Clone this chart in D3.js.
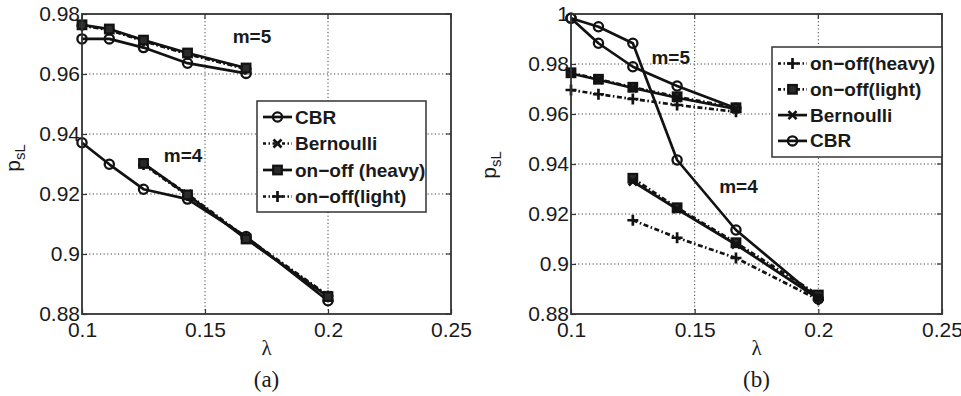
<!DOCTYPE html>
<html>
<head>
<meta charset="utf-8">
<script src="https://cdn.jsdelivr.net/npm/d3@7"></script>
<style>
  html, body { margin: 0; padding: 0; background: #fff; }
  svg { display: block; }
  text { font-family: "Liberation Sans", Arial, Helvetica, sans-serif; fill: #1a1a1a; }
</style>
</head>
<body>
<svg id="chart" width="961" height="396"></svg>
<script>
// Arrival rates (λ = 1/10 ... 1/5)
const lambda5 = [0.1, 0.1111, 0.125, 0.1429, 0.1667];
const lambda6 = [0.1, 0.1111, 0.125, 0.1429, 0.1667, 0.2];
const lambda4 = [0.125, 0.1429, 0.1667, 0.2];

const xTicks = [0.1, 0.15, 0.2, 0.25];
const yTicksA = [0.88, 0.9, 0.92, 0.94, 0.96, 0.98];
const yTicksB = [0.88, 0.9, 0.92, 0.94, 0.96, 0.98, 1];

// Panel (a): p_sL
const aCbrM5   = [0.9717, 0.9717, 0.9688, 0.9636, 0.9602];
const aBernM5  = [0.9762, 0.9748, 0.9711, 0.9668, 0.9618];
const aHeavyM5 = [0.9764, 0.9750, 0.9713, 0.9670, 0.9620];
const aLightM5 = [0.9761, 0.9747, 0.9710, 0.9666, 0.9617];
const aCbrM4   = [0.9371, 0.9299, 0.9216, 0.9183, 0.9058, 0.8844];
const aBernM4  = [0.9300, 0.9200, 0.9055, 0.8862];
const aHeavyM4 = [0.9302, 0.9197, 0.9050, 0.8858];
const aLightM4 = [0.9298, 0.9195, 0.9052, 0.8860];

// Panel (b): p_sL
const bCbrM5   = [0.9983, 0.9883, 0.9789, 0.9712, 0.9623];
const bLightM5 = [0.9765, 0.9739, 0.9707, 0.9669, 0.9625];
const bBernM5  = [0.9762, 0.9737, 0.9704, 0.9665, 0.9620];
const bHeavyM5 = [0.9696, 0.9679, 0.9660, 0.9636, 0.9609];
const bCbrM4   = [0.9983, 0.9949, 0.9883, 0.9416, 0.9136, 0.8860];
const bLightM4 = [0.9343, 0.9225, 0.9085, 0.8876];
const bBernM4  = [0.9330, 0.9220, 0.9078, 0.8862];
const bHeavyM4 = [0.9175, 0.9105, 0.9024, 0.8857];

const legendA = ["CBR", "Bernoulli", "on−off (heavy)", "on−off(light)"];
const legendB = ["on−off(heavy)", "on−off(light)", "Bernoulli", "CBR"];

const INK = "#121212";
const DASHDOT = "5,2.5,1.6,2.5";

const svg = d3.select("#chart");

function drawMarker(g, type, x, y) {
  if (type === "circle") {
    g.append("circle").attr("cx", x).attr("cy", y).attr("r", 4.6)
      .attr("fill", "none").attr("stroke", INK).attr("stroke-width", 2.3);
  } else if (type === "square") {
    g.append("rect").attr("x", x - 4.3).attr("y", y - 4.3).attr("width", 8.6).attr("height", 8.6)
      .attr("fill", "#2a2a2a").attr("stroke", INK).attr("stroke-width", 2.2);
  } else if (type === "plus") {
    g.append("path").attr("d", `M${x - 5.5},${y}H${x + 5.5}M${x},${y - 5.5}V${y + 5.5}`)
      .attr("stroke", INK).attr("stroke-width", 2.7).attr("fill", "none");
  } else if (type === "cross") {
    g.append("path").attr("d", `M${x - 4},${y - 4}L${x + 4},${y + 4}M${x - 4},${y + 4}L${x + 4},${y - 4}`)
      .attr("stroke", INK).attr("stroke-width", 2.7).attr("fill", "none");
  }
}

function panel(cfg) {
  const x = d3.scaleLinear().domain([0.1, 0.25]).range([cfg.left, cfg.right]);
  const y = d3.scaleLinear().domain(cfg.yDomain).range([cfg.bottom, cfg.top]);
  const g = svg.append("g");
  const fmt = d3.format("~g");

  // dotted grid
  const grid = g.append("g").attr("stroke", "#444").attr("stroke-width", 1)
    .attr("stroke-dasharray", "1.2,2.4");
  xTicks.slice(1, -1).forEach(t => grid.append("line")
    .attr("x1", x(t)).attr("x2", x(t)).attr("y1", cfg.top).attr("y2", cfg.bottom));
  cfg.yTicks.slice(1, -1).forEach(t => grid.append("line")
    .attr("x1", cfg.left).attr("x2", cfg.right).attr("y1", y(t)).attr("y2", y(t)));

  // series
  const line = d3.line().x(d => x(d[0])).y(d => y(d[1]));
  cfg.series.forEach(s => {
    const pts = s.xs.map((v, i) => [v, s.ys[i]]);
    g.append("path").datum(pts).attr("d", line)
      .attr("fill", "none").attr("stroke", INK).attr("stroke-width", 2.7)
      .attr("stroke-linejoin", "round")
      .attr("stroke-dasharray", s.dash ? DASHDOT : null);
    const mg = g.append("g");
    pts.forEach(p => drawMarker(mg, s.marker, x(p[0]), y(p[1])));
  });

  // axes with inward ticks
  const xa = g.append("g").attr("transform", `translate(0,${cfg.bottom})`)
    .call(d3.axisBottom(x).tickValues(xTicks).tickFormat(fmt).tickSizeInner(-5).tickSizeOuter(0).tickPadding(8));
  const ya = g.append("g").attr("transform", `translate(${cfg.left},0)`)
    .call(d3.axisLeft(y).tickValues(cfg.yTicks).tickFormat(fmt).tickSizeInner(-5).tickSizeOuter(0).tickPadding(2));
  [xa, ya].forEach(a => {
    a.select(".domain").remove();
    a.selectAll(".tick line").attr("stroke", "#333").attr("stroke-width", 1.2);
    a.selectAll(".tick text").attr("font-size", 21).attr("fill", "#1a1a1a")
      .attr("font-family", "'Liberation Sans', Arial, sans-serif");
  });
  // top / right ticks
  xTicks.forEach(t => g.append("line").attr("x1", x(t)).attr("x2", x(t))
    .attr("y1", cfg.top).attr("y2", cfg.top + 5).attr("stroke", "#333").attr("stroke-width", 1.2));
  cfg.yTicks.forEach(t => g.append("line").attr("x1", cfg.right).attr("x2", cfg.right - 5)
    .attr("y1", y(t)).attr("y2", y(t)).attr("stroke", "#333").attr("stroke-width", 1.2));

  // frame
  g.append("rect").attr("x", cfg.left).attr("y", cfg.top)
    .attr("width", cfg.right - cfg.left).attr("height", cfg.bottom - cfg.top)
    .attr("fill", "none").attr("stroke", "#333").attr("stroke-width", 1.8);

  // m labels
  cfg.notes.forEach(n => g.append("text").attr("x", x(n.x)).attr("y", y(n.y))
    .attr("text-anchor", "middle").attr("font-size", 19).attr("font-weight", "bold").text(n.text));

  // axis titles
  const cx = (cfg.left + cfg.right) / 2;
  g.append("text").attr("x", cx).attr("y", 355).attr("text-anchor", "middle")
    .style("font-family", "'Liberation Serif', serif").attr("font-size", 21).text("λ");
  g.append("text").attr("x", cx).attr("y", 387).attr("text-anchor", "middle")
    .style("font-family", "'Liberation Serif', serif").attr("font-size", 23).text(cfg.caption);
  const yl = g.append("text").attr("transform", `translate(${cfg.ylabelX},${cfg.ylabelY}) rotate(-90)`)
    .attr("text-anchor", "middle").attr("font-size", 21);
  yl.append("tspan").text("p");
  yl.append("tspan").attr("font-size", 15).attr("dy", "0.35em").text("sL");

  // legend
  const L = cfg.legend;
  const lg = g.append("g");
  lg.append("rect").attr("x", L.x).attr("y", L.y).attr("width", L.w).attr("height", L.h)
    .attr("fill", "#fff").attr("stroke", "#333").attr("stroke-width", 1.5);
  L.items.forEach((it, i) => {
    const yy = L.y + L.first + i * L.step;
    lg.append("line").attr("x1", L.x + 6).attr("x2", L.x + 35).attr("y1", yy).attr("y2", yy)
      .attr("stroke", INK).attr("stroke-width", 2.7)
      .attr("stroke-dasharray", it.dash ? "3,2.5,1.5,2.5" : null);
    drawMarker(lg, it.marker, L.x + 20.5, yy);
    lg.append("text").attr("x", L.x + 38).attr("y", yy + 6.5).attr("font-size", 19)
      .attr("font-weight", "bold").text(it.label);
  });
}

panel({
  left: 82, right: 451, top: 14, bottom: 314,
  yDomain: [0.88, 0.98], yTicks: yTicksA,
  caption: "(a)", ylabelX: 20, ylabelY: 158,
  series: [
    { xs: lambda5, ys: aCbrM5, marker: "circle", dash: false },
    { xs: lambda5, ys: aLightM5, marker: "plus", dash: true },
    { xs: lambda5, ys: aBernM5, marker: "cross", dash: true },
    { xs: lambda5, ys: aHeavyM5, marker: "square", dash: false },
    { xs: lambda6, ys: aCbrM4, marker: "circle", dash: false },
    { xs: lambda4, ys: aLightM4, marker: "plus", dash: true },
    { xs: lambda4, ys: aBernM4, marker: "cross", dash: true },
    { xs: lambda4, ys: aHeavyM4, marker: "square", dash: false }
  ],
  notes: [ { x: 0.1691, y: 0.9703, text: "m=5" }, { x: 0.1411, y: 0.9307, text: "m=4" } ],
  legend: { x: 257, y: 101, w: 169, h: 111, first: 16, step: 26.5,
    items: [
      { label: legendA[0], marker: "circle", dash: false },
      { label: legendA[1], marker: "cross", dash: true },
      { label: legendA[2], marker: "square", dash: false },
      { label: legendA[3], marker: "plus", dash: true }
    ] }
});

panel({
  left: 571, right: 942, top: 14, bottom: 314,
  yDomain: [0.88, 1.0], yTicks: yTicksB,
  caption: "(b)", ylabelX: 496, ylabelY: 165,
  series: [
    { xs: lambda5, ys: bHeavyM5, marker: "plus", dash: true },
    { xs: lambda5, ys: bLightM5, marker: "square", dash: true },
    { xs: lambda5, ys: bBernM5, marker: "cross", dash: false },
    { xs: lambda5, ys: bCbrM5, marker: "circle", dash: false },
    { xs: lambda4, ys: bHeavyM4, marker: "plus", dash: true },
    { xs: lambda4, ys: bLightM4, marker: "square", dash: true },
    { xs: lambda4, ys: bBernM4, marker: "cross", dash: false },
    { xs: lambda6, ys: bCbrM4, marker: "circle", dash: false }
  ],
  notes: [ { x: 0.1403, y: 0.9802, text: "m=5" }, { x: 0.1677, y: 0.9286, text: "m=4" } ],
  legend: { x: 772, y: 47, w: 170, h: 110, first: 16.5, step: 25.8,
    items: [
      { label: legendB[0], marker: "plus", dash: true },
      { label: legendB[1], marker: "square", dash: true },
      { label: legendB[2], marker: "cross", dash: false },
      { label: legendB[3], marker: "circle", dash: false }
    ] }
});
</script>
</body>
</html>
